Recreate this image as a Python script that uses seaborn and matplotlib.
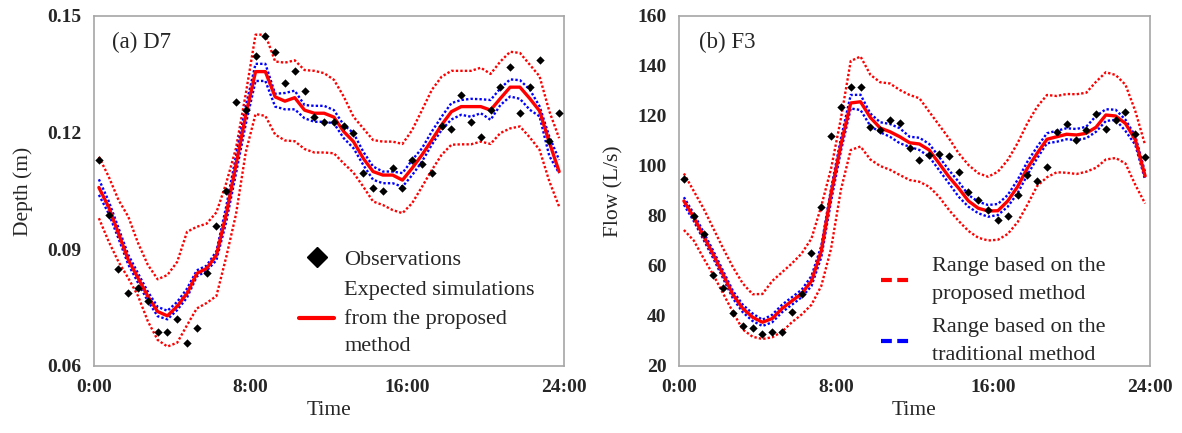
import numpy as np
import pandas as pd
import matplotlib
matplotlib.use("Agg")
import matplotlib.pyplot as plt
from matplotlib.lines import Line2D
import seaborn as sns

# ---------------- data (half-hour steps, plotted at interval centres) ----------------
hours = np.arange(0.25, 24.0, 0.5)
xtick_pos = [0, 8, 16, 24]
xtick_labels = ["0:00", "8:00", "16:00", "24:00"]

# Panel (a) D7 : depth (m)
d7_obs = [0.1130, 0.0989, 0.0850, 0.0789, 0.0800, 0.0768, 0.0687, 0.0687, 0.0721, 0.0658,
          0.0699, 0.0840, 0.0959, 0.1051, 0.1280, 0.1257, 0.1398, 0.1449, 0.1408, 0.1329,
          0.1359, 0.1308, 0.1239, 0.1228, 0.1228, 0.1217, 0.1198, 0.1097, 0.1057, 0.1050,
          0.1108, 0.1057, 0.1130, 0.1119, 0.1097, 0.1217, 0.1209, 0.1297, 0.1227, 0.1189,
          0.1257, 0.1318, 0.1370, 0.1250, 0.1318, 0.1387, 0.1178, 0.1250]
d7_expected = [0.1059, 0.1008, 0.0941, 0.0873, 0.0826, 0.0779, 0.0740, 0.0729, 0.0754, 0.0787,
               0.0838, 0.0851, 0.0885, 0.0990, 0.1118, 0.1245, 0.1357, 0.1357, 0.1292, 0.1281,
               0.1290, 0.1258, 0.1250, 0.1250, 0.1240, 0.1203, 0.1177, 0.1134, 0.1100, 0.1091,
               0.1091, 0.1078, 0.1109, 0.1143, 0.1181, 0.1220, 0.1254, 0.1267, 0.1267, 0.1267,
               0.1258, 0.1288, 0.1317, 0.1317, 0.1288, 0.1256, 0.1175, 0.1100]
d7_prop_upper = [0.1138, 0.1087, 0.1027, 0.0984, 0.0916, 0.0860, 0.0823, 0.0834, 0.0868, 0.0945,
                 0.0958, 0.0966, 0.0995, 0.1070, 0.1160, 0.1300, 0.1452, 0.1452, 0.1383, 0.1380,
                 0.1386, 0.1361, 0.1359, 0.1353, 0.1336, 0.1293, 0.1241, 0.1211, 0.1181, 0.1177,
                 0.1177, 0.1171, 0.1207, 0.1258, 0.1310, 0.1344, 0.1359, 0.1359, 0.1359, 0.1367,
                 0.1351, 0.1383, 0.1408, 0.1405, 0.1375, 0.1345, 0.1255, 0.1186]
d7_prop_lower = [0.0980, 0.0920, 0.0868, 0.0826, 0.0780, 0.0715, 0.0667, 0.0650, 0.0660, 0.0705,
                 0.0748, 0.0762, 0.0780, 0.0880, 0.0990, 0.1150, 0.1248, 0.1243, 0.1195, 0.1180,
                 0.1178, 0.1158, 0.1149, 0.1149, 0.1147, 0.1121, 0.1097, 0.1061, 0.1023, 0.1014,
                 0.1001, 0.0993, 0.1019, 0.1061, 0.1104, 0.1143, 0.1169, 0.1170, 0.1170, 0.1177,
                 0.1171, 0.1199, 0.1211, 0.1216, 0.1188, 0.1156, 0.1075, 0.1010]
d7_trad_upper = [0.1080, 0.1024, 0.0955, 0.0886, 0.0838, 0.0791, 0.0752, 0.0742, 0.0765, 0.0799,
                 0.0846, 0.0858, 0.0895, 0.1010, 0.1140, 0.1268, 0.1377, 0.1377, 0.1300, 0.1302,
                 0.1308, 0.1271, 0.1269, 0.1269, 0.1258, 0.1220, 0.1199, 0.1151, 0.1113, 0.1100,
                 0.1100, 0.1096, 0.1130, 0.1160, 0.1203, 0.1241, 0.1276, 0.1284, 0.1287, 0.1286,
                 0.1284, 0.1314, 0.1337, 0.1335, 0.1311, 0.1268, 0.1190, 0.1130]
d7_trad_lower = [0.1040, 0.0992, 0.0928, 0.0861, 0.0814, 0.0767, 0.0728, 0.0720, 0.0744, 0.0776,
                 0.0830, 0.0845, 0.0872, 0.0970, 0.1095, 0.1222, 0.1333, 0.1333, 0.1267, 0.1260,
                 0.1260, 0.1237, 0.1228, 0.1228, 0.1224, 0.1186, 0.1160, 0.1117, 0.1079, 0.1070,
                 0.1070, 0.1061, 0.1091, 0.1126, 0.1169, 0.1207, 0.1234, 0.1246, 0.1241, 0.1250,
                 0.1233, 0.1271, 0.1293, 0.1287, 0.1259, 0.1242, 0.1140, 0.1096]

# Panel (b) F3 : flow (L/s)
f3_obs = [94.7, 80.1, 72.7, 56.4, 51.3, 41.1, 36.1, 35.1, 32.8, 33.7,
          33.7, 41.7, 48.7, 65.0, 83.5, 112.0, 123.7, 131.7, 131.7, 115.5,
          114.4, 118.3, 117.1, 107.1, 102.4, 104.4, 104.8, 104.1, 97.5, 89.5,
          86.3, 82.3, 78.4, 80.0, 88.4, 96.4, 94.0, 99.7, 113.7, 116.7,
          110.4, 114.4, 120.6, 114.9, 118.4, 121.6, 112.8, 103.7]
f3_expected = [86.0, 79.5, 72.0, 64.5, 56.5, 48.5, 43.0, 39.5, 37.5, 39.0,
               43.0, 46.0, 49.0, 54.0, 66.0, 89.0, 108.5, 125.2, 125.7, 119.4,
               115.2, 113.7, 111.7, 109.3, 108.8, 106.4, 101.1, 95.7, 91.1, 86.0,
               83.1, 82.0, 82.1, 86.0, 91.7, 99.1, 105.1, 110.7, 111.7, 112.7,
               112.4, 113.1, 115.5, 120.4, 120.0, 117.0, 110.5, 96.0]
f3_prop_upper = [97.0, 90.0, 83.0, 75.0, 67.0, 59.5, 53.0, 48.7, 48.8, 54.0,
                 57.5, 61.0, 65.0, 71.0, 84.0, 99.0, 119.0, 142.0, 143.8, 136.5,
                 133.5, 133.0, 130.4, 128.4, 127.1, 121.7, 116.4, 111.1, 105.1, 100.4,
                 97.1, 95.7, 97.7, 102.4, 109.1, 117.1, 123.7, 128.4, 128.0, 128.8,
                 128.7, 129.3, 133.7, 137.5, 136.4, 132.5, 122.0, 108.4]
f3_prop_lower = [74.4, 70.2, 63.1, 56.4, 49.0, 41.5, 34.6, 31.7, 30.8, 31.5,
                 33.7, 37.5, 40.6, 44.5, 52.0, 67.0, 90.5, 106.4, 107.8, 102.6,
                 100.0, 98.5, 96.4, 94.4, 93.7, 91.7, 87.7, 82.5, 78.0, 74.0,
                 71.3, 70.2, 70.5, 72.8, 77.5, 84.5, 92.0, 95.5, 97.5, 97.3,
                 96.8, 97.7, 99.3, 102.6, 103.2, 101.0, 92.5, 85.0]
f3_trad_upper = [87.5, 81.0, 73.5, 66.0, 58.0, 50.0, 44.5, 41.0, 38.5, 40.5,
                 44.5, 47.5, 50.5, 56.0, 68.0, 91.0, 111.0, 128.4, 128.5, 121.0,
                 117.5, 116.8, 115.1, 111.7, 111.3, 108.8, 103.7, 98.4, 93.7, 88.4,
                 85.7, 84.4, 84.8, 88.4, 94.4, 101.7, 107.7, 113.1, 114.1, 115.1,
                 114.8, 115.7, 120.0, 122.7, 122.5, 118.5, 112.0, 97.5]
f3_trad_lower = [84.5, 78.0, 70.5, 63.0, 55.0, 47.0, 41.5, 38.0, 36.0, 37.5,
                 41.5, 44.5, 47.5, 52.0, 63.5, 86.0, 106.0, 123.0, 122.4, 116.0,
                 113.5, 111.7, 109.1, 107.7, 106.4, 103.7, 98.4, 93.1, 87.7, 83.7,
                 81.1, 79.7, 80.4, 83.7, 89.1, 96.4, 103.1, 109.1, 109.7, 110.7,
                 110.4, 111.1, 113.7, 118.0, 118.5, 114.0, 108.5, 94.5]

# ---------------- style ----------------
sns.set_style("white")
plt.rcParams["font.family"] = ["Liberation Serif", "DejaVu Serif"]

RED = "#ff0000"
BLUE = "#0000ff"
GRAY = "#a6a6a6"
DOT = (0, (1.0, 0.9))

fig = plt.figure(figsize=(11.82, 4.33), dpi=100)
H = 433.0
W = 1182.0
ax1 = fig.add_axes([94 / W, 1 - 366 / H, 470 / W, 350 / H])
ax2 = fig.add_axes([679 / W, 1 - 366 / H, 471 / W, 350 / H])


def draw_panel(ax, obs, exp, pu, pl, tu, tl):
    df = pd.DataFrame({"t": hours, "obs": obs, "exp": exp,
                       "pu": pu, "pl": pl, "tu": tu, "tl": tl})
    for col, colr in (("pu", RED), ("pl", RED), ("tu", BLUE), ("tl", BLUE)):
        sns.lineplot(data=df, x="t", y=col, ax=ax, color=colr, linewidth=1.7,
                     linestyle=DOT, legend=False, estimator=None, sort=False)
    sns.lineplot(data=df, x="t", y="exp", ax=ax, color=RED, linewidth=2.4,
                 legend=False, estimator=None, sort=False, zorder=4)
    sns.scatterplot(data=df, x="t", y="obs", ax=ax, marker="D", s=18,
                    color="black", edgecolor="black", linewidth=0,
                    legend=False, zorder=5)
    ax.set_xlim(0, 24)
    ax.set_xticks(xtick_pos)
    ax.set_xticklabels(xtick_labels, fontweight="bold", fontsize=14)
    for sp in ax.spines.values():
        sp.set_color(GRAY)
        sp.set_linewidth(1.2)
        sp.set_visible(True)
    ax.tick_params(axis="both", direction="out", length=5, width=1.1,
                   color=GRAY, pad=4, labelsize=14)
    ax.set_xlabel("Time", fontsize=15.5, labelpad=4)


draw_panel(ax1, d7_obs, d7_expected, d7_prop_upper, d7_prop_lower,
           d7_trad_upper, d7_trad_lower)
draw_panel(ax2, f3_obs, f3_expected, f3_prop_upper, f3_prop_lower,
           f3_trad_upper, f3_trad_lower)

# y axes
d7_ticks = [0.06, 0.09, 0.12, 0.15]
ax1.set_ylim(0.06, 0.15)
ax1.set_yticks(d7_ticks)
ax1.set_yticklabels([f"{v:.2f}" for v in d7_ticks], fontweight="bold", fontsize=14)
ax1.set_ylabel("Depth (m)", fontsize=15.5, labelpad=10)

f3_ticks = [20, 40, 60, 80, 100, 120, 140, 160]
ax2.set_ylim(20, 160)
ax2.set_yticks(f3_ticks)
ax2.set_yticklabels([str(v) for v in f3_ticks], fontweight="bold", fontsize=14)
ax2.set_ylabel("Flow (L/s)", fontsize=15.5, labelpad=10)

# panel titles
ax1.text(0.038, 0.923, "(a) D7", transform=ax1.transAxes, fontsize=16.5,
         ha="left", va="center")
ax2.text(0.042, 0.923, "(b) F3", transform=ax2.transAxes, fontsize=16.5,
         ha="left", va="center")

# legends
h_obs = Line2D([], [], marker="D", color="black", linestyle="None", markersize=10)
h_exp = Line2D([], [], color=RED, linewidth=3)
leg1 = ax1.legend([h_obs, h_exp],
                  ["Observations", "Expected simulations\nfrom the proposed\nmethod"],
                  loc="upper left", bbox_to_anchor=(0.436, 0.333), frameon=False,
                  fontsize=16, handlelength=1.6, handletextpad=0.45, labelspacing=0.5,
                  borderpad=0.0, borderaxespad=0.0)
for t in leg1.get_texts():
    t.set_linespacing(1.6)

h_prop = Line2D([], [], color=RED, linewidth=3, linestyle=(0, (2.6, 1.3)))
h_trad = Line2D([], [], color=BLUE, linewidth=3, linestyle=(0, (2.6, 1.3)))
leg2 = ax2.legend([h_prop, h_trad],
                  ["Range based on the\nproposed method",
                   "Range based on the\ntraditional method"],
                  loc="upper left", bbox_to_anchor=(0.4285, 0.31), frameon=False,
                  fontsize=16, handlelength=1.25, handletextpad=1.05, labelspacing=0.62,
                  borderpad=0.0, borderaxespad=0.0)
for t in leg2.get_texts():
    t.set_linespacing(1.62)

fig.savefig("out.png", dpi=100)
